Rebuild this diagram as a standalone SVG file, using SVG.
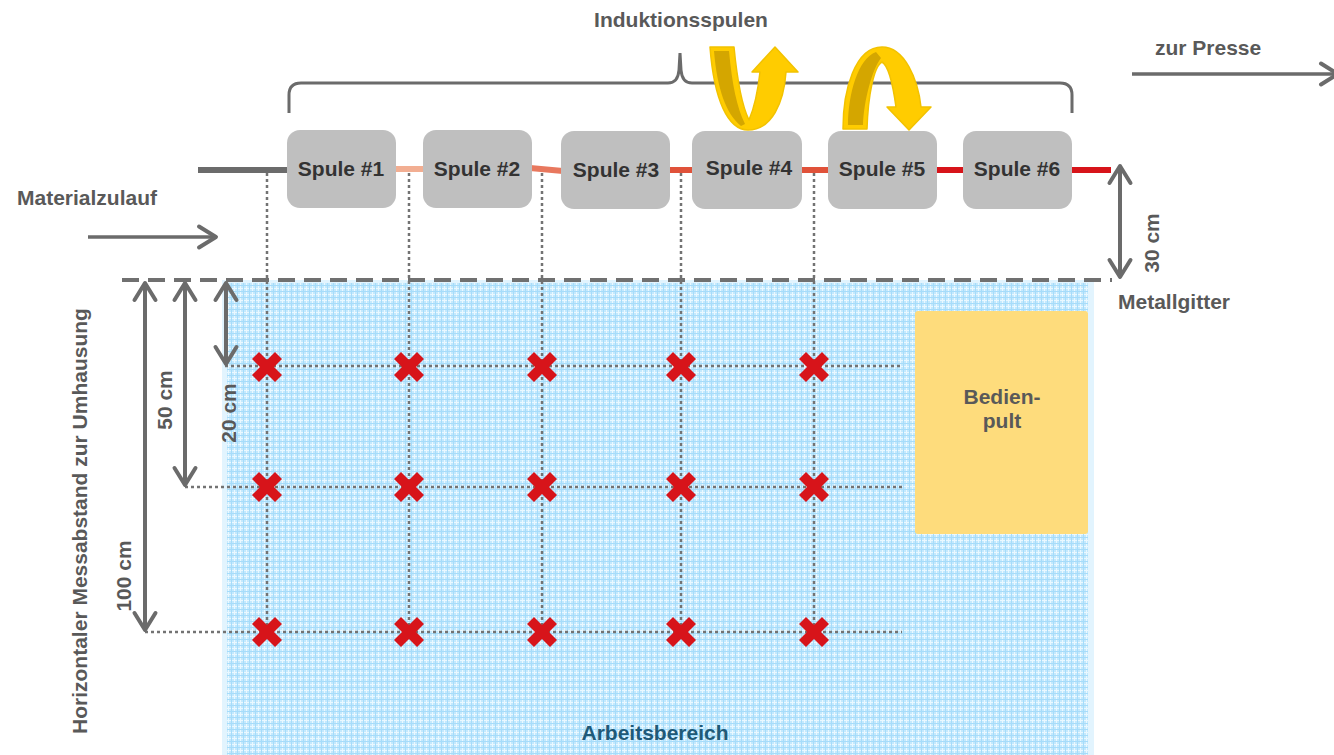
<svg xmlns="http://www.w3.org/2000/svg" width="1334" height="755" viewBox="0 0 1334 755">
<style>
.lbl{font-family:"Liberation Sans",Arial,sans-serif;font-weight:bold;font-size:21px;fill:#595959}
.sp{font-family:"Liberation Sans",Arial,sans-serif;font-weight:bold;font-size:21px;fill:#333333;text-anchor:middle}
.coil{fill:#bfbfbf}
.dot{stroke:#737373;stroke-width:2.5;stroke-dasharray:3 3;fill:none}
.dim{stroke:#6b6b6b;stroke-width:4;fill:none;marker-start:url(#chev);marker-end:url(#chev)}
.arr{stroke:#6b6b6b;stroke-width:3.5;fill:none;marker-end:url(#chev)}
.link{stroke-width:6;fill:none}
.yel{fill:#ffcc00;stroke:#f2c200;stroke-width:1.5;stroke-linejoin:round}
.yeld{fill:#d4a600}
</style>
<defs>
<marker id="chev" markerUnits="userSpaceOnUse" markerWidth="30" markerHeight="30" refX="0" refY="0" orient="auto-start-reverse" overflow="visible">
<path d="M-17,-10.5 L0,0 L-17,10.5" fill="none" stroke="#6b6b6b" stroke-width="4" stroke-linejoin="round" stroke-linecap="round"/>
</marker>
<pattern id="grid" width="6" height="6" patternUnits="userSpaceOnUse">
<rect width="6" height="6" fill="#c4e9fd"/>
<path d="M0,0.5H6M0.5,0V6" stroke="#eaf8ff" stroke-width="1"/>
<path d="M0,3.5H6M3.5,0V6" stroke="#a6dcfa" stroke-width="1"/>
</pattern>
<path id="xm" d="M-15,-8 L-8,-15 L0,-7 L8,-15 L15,-8 L7,0 L15,8 L8,15 L0,7 L-8,15 L-15,8 L-7,0 Z" fill="#d7141a"/>
</defs>
<rect width="1334" height="755" fill="#ffffff"/>

<g id="arbeitsbereich">
<rect x="222" y="280" width="872" height="475" fill="#e2f4fe"/>
<rect x="227" y="283" width="861" height="472" fill="url(#grid)"/>
<text class="lbl" x="655" y="740" text-anchor="middle" style="fill:#1f5a78">Arbeitsbereich</text>
</g>

<g id="bedienpult">
<rect x="915" y="311" width="173" height="223" rx="3" fill="#fedc7c"/>
<text class="lbl" x="1002" y="404" text-anchor="middle">Bedien-</text>
<text class="lbl" x="1002" y="428" text-anchor="middle">pult</text>
</g>

<g id="connectors">
<path class="dot" d="M267,173V640 M409,173V640 M542,173V640 M681,173V640 M814,173V640"/>
<path class="dot" d="M225,366H902 M185,487H902 M145,632H902"/>
<path class="dim" d="M145,283V630"/>
<path class="dim" d="M185,283V485"/>
<path class="dim" d="M226,283V364"/>
<path class="dim" d="M1120,166V277"/>
<path class="arr" d="M88,237H216"/>
<path class="arr" d="M1132,74H1338"/>
<path d="M122,280H1112" stroke="#707070" stroke-width="4" stroke-dasharray="17 9" fill="none"/>
<path d="M289,113 L289,95 Q289,83 301,83 L668,83 Q678,83 679,70 L680,53 L681,70 Q682,83 692,83 L1060,83 Q1072,83 1072,95 L1072,113" fill="none" stroke="#6b6b6b" stroke-width="3"/>
<path class="link" d="M198,170H290" stroke="#6b6b6b"/>
<path class="link" d="M394,169H425" stroke="#f2ae92"/>
<path class="link" d="M530,168L563,171" stroke="#e8785e"/>
<path class="link" d="M667,170H694" stroke="#e0523a"/>
<path class="link" d="M800,170H830" stroke="#e0523a"/>
<path class="link" d="M935,170H965" stroke="#d7141a"/>
<path class="link" d="M1070,170H1111" stroke="#d7141a"/>
</g>

<g id="markers">
<use href="#xm" x="267" y="367"/><use href="#xm" x="409" y="367"/><use href="#xm" x="542" y="367"/><use href="#xm" x="681" y="367"/><use href="#xm" x="814" y="367"/>
<use href="#xm" x="267" y="487"/><use href="#xm" x="409" y="487"/><use href="#xm" x="542" y="487"/><use href="#xm" x="681" y="487"/><use href="#xm" x="814" y="487"/>
<use href="#xm" x="267" y="632"/><use href="#xm" x="409" y="632"/><use href="#xm" x="542" y="632"/><use href="#xm" x="681" y="632"/><use href="#xm" x="814" y="632"/>
</g>

<g id="spule1"><rect class="coil" x="287" y="130" width="109" height="78" rx="13"/><text class="sp" x="341" y="176">Spule #1</text></g>
<g id="spule2"><rect class="coil" x="423" y="130" width="109" height="78" rx="13"/><text class="sp" x="477" y="176">Spule #2</text></g>
<g id="spule3"><rect class="coil" x="561" y="131" width="109" height="78" rx="13"/><text class="sp" x="616" y="177">Spule #3</text></g>
<g id="spule4"><rect class="coil" x="692" y="131" width="110" height="78" rx="13"/><text class="sp" x="749" y="175">Spule #4</text></g>
<g id="spule5"><rect class="coil" x="828" y="131" width="109" height="78" rx="13"/><text class="sp" x="882" y="176">Spule #5</text></g>
<g id="spule6"><rect class="coil" x="963" y="131" width="109" height="78" rx="13"/><text class="sp" x="1017" y="176">Spule #6</text></g>

<g id="drehpfeil1">
<path class="yel" d="M710,47 L734,47 C737,78 741,104 749,120 C755,106 758,90 760,72 L752,72 L775,47 L798,72 L786,72 C784,102 772,130 748,130 C728,130 714,100 710,47 Z"/>
<path class="yeld" d="M714,51 L729,51 C732,84 737,108 745,124 L741,126 C726,114 717,88 714,51 Z"/>
</g>
<g id="drehpfeil2">
<path class="yel" d="M843,129 C843,90 855,47 882,47 C905,47 918,80 921,107 L931,107 L909,130 L887,107 L896,107 C893,85 889,66 882,62 C874,66 868,95 867,129 Z"/>
<path class="yeld" d="M848,125 C848,95 858,58 876,52 L881,58 C872,70 864,100 863,125 Z"/>
</g>

<g id="labels">
<text class="lbl" x="681" y="27" text-anchor="middle">Induktionsspulen</text>
<text class="lbl" x="1155" y="55">zur Presse</text>
<text class="lbl" x="17" y="205">Materialzulauf</text>
<text class="lbl" x="1118" y="309">Metallgitter</text>
<text class="lbl" text-anchor="middle" transform="translate(1159,243) rotate(-90)">30 cm</text>
<text class="lbl" text-anchor="middle" transform="translate(236,413) rotate(-90)">20 cm</text>
<text class="lbl" text-anchor="middle" transform="translate(172,400) rotate(-90)">50 cm</text>
<text class="lbl" text-anchor="middle" transform="translate(131,576) rotate(-90)">100 cm</text>
<text class="lbl" text-anchor="middle" transform="translate(87,521) rotate(-90)">Horizontaler Messabstand zur Umhausung</text>
</g>
</svg>
